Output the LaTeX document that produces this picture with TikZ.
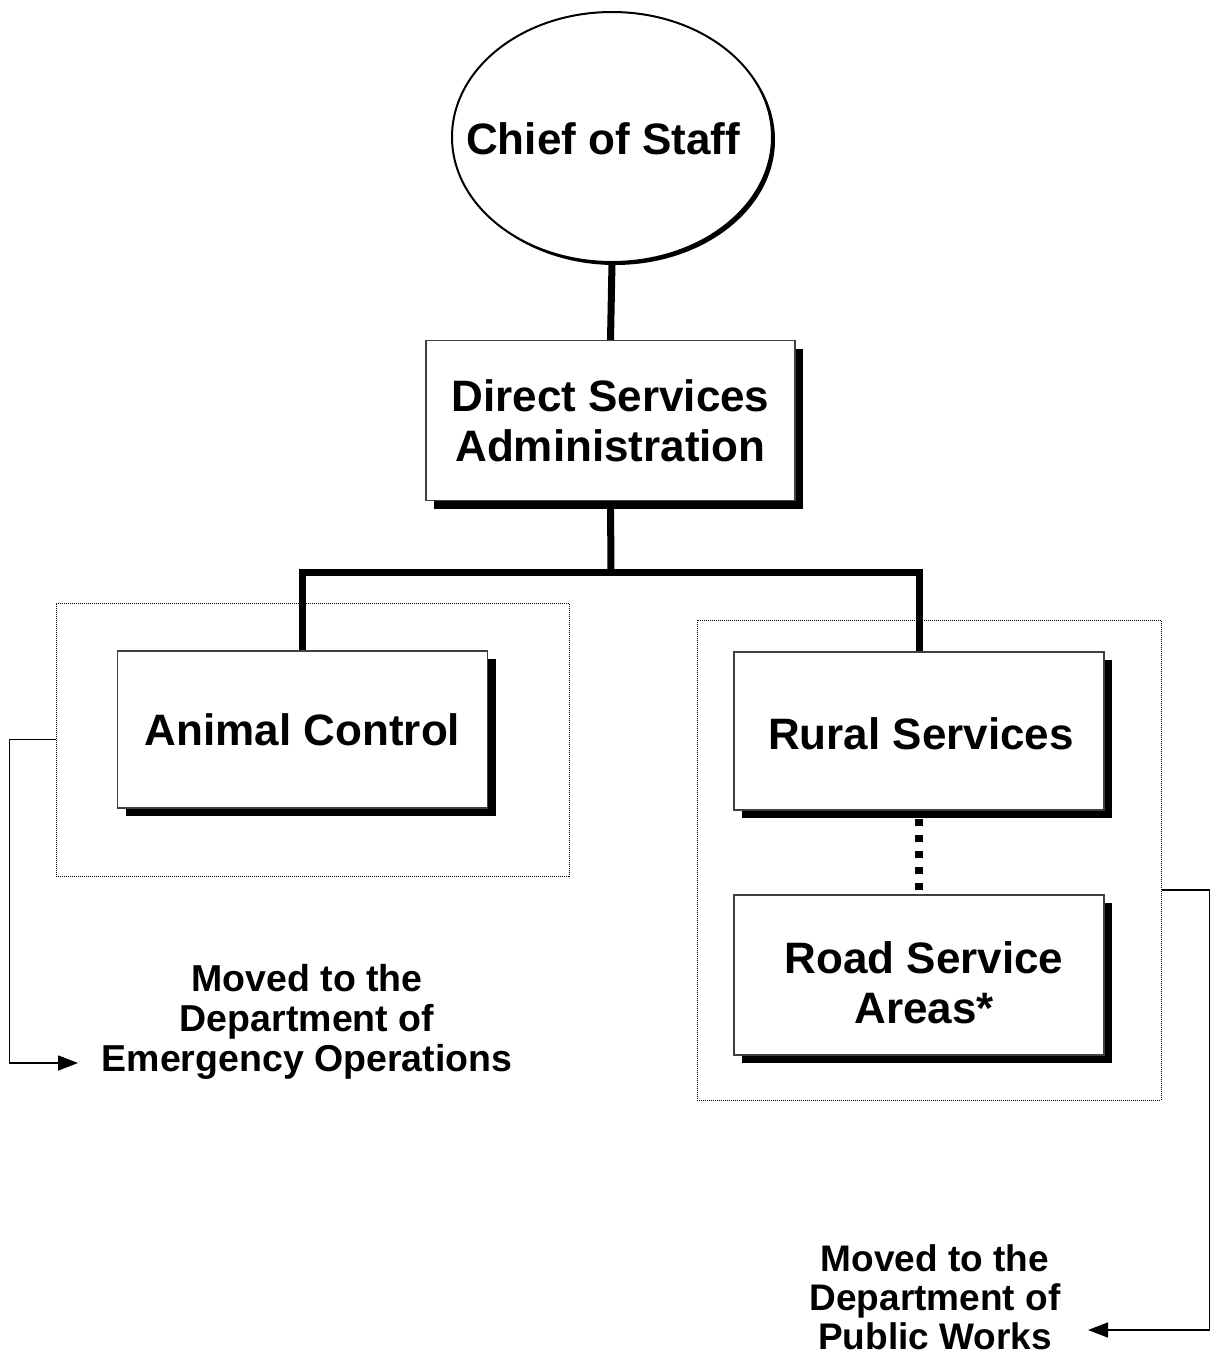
\documentclass[tikz,border=0pt]{standalone}
\usepackage{fontspec}
\setmainfont{Liberation Sans}
\usetikzlibrary{shapes.geometric,shadows,arrows.meta}
\begin{document}
\begin{tikzpicture}[x=1pt,y=-1pt,
  orgbox/.style={draw=black!75,line width=1.2pt,fill=white,rectangle,inner sep=0pt,
    align=center,font=\fontsize{44}{50}\selectfont\bfseries,
    drop shadow={shadow xshift=8pt,shadow yshift=-8pt,fill=black,opacity=1}},
  boxtext/.style={align=center,font=\fontsize{44}{50}\selectfont\bfseries,inner sep=0pt},
  link/.style={line width=7pt,black},
  dotlink/.style={line width=7.5pt,black,dash pattern=on 7pt off 9pt},
  frame/.style={draw,densely dotted,line width=1pt,rectangle,inner sep=0pt},
  movearrow/.style={line width=1.5pt,-{Triangle[length=20pt,width=15pt]}},
  movelabel/.style={align=center,font=\fontsize{37.5}{40}\selectfont\bfseries,inner sep=0pt},
  movelabelR/.style={align=center,font=\fontsize{37}{39}\selectfont\bfseries,inner sep=0pt}
]
\useasboundingbox[fill=white] (0,0) rectangle (1214,1358);

% dotted frames
\node[frame,minimum width=513pt,minimum height=273pt] (frameL) at (312.5,739.5) {};
\node[frame,minimum width=464pt,minimum height=480pt] (frameR) at (929,860) {};

% chief of staff
\node[ellipse,draw,line width=2pt,fill=white,minimum width=320pt,minimum height=250pt,inner sep=0pt,
  drop shadow={shadow xshift=3pt,shadow yshift=-3pt,fill=black,opacity=1}] (chief) at (612,137) {};
\node[boxtext] (chieftext) at (603,139) {Chief of Staff};

% boxes
\node[orgbox,minimum width=369pt,minimum height=160pt] (dsa) at (610.5,420.5) {Direct Services\\Administration};
\node[orgbox,minimum width=370pt,minimum height=157pt] (animal) at (302.5,729.5) {Animal Control};
\node[orgbox,minimum width=370pt,minimum height=158pt] (rural) at (919,731) {};
\node[boxtext] (ruraltext) at (921,734) {Rural Services};
\node[orgbox,minimum width=370pt,minimum height=160pt] (road) at (919,975) {};
\node[boxtext] (roadtext) at (924,983) {Road Service\\Areas*};

% connectors
\coordinate (bar) at (611,572);
\draw[link] (chief.south) -- (dsa.north);
\draw[link] (dsa.south) -- (bar);
\draw[link] (animal.north) |- (bar) -| (rural.north);
\draw[dotlink] ([yshift=-8pt]rural.south) -- (road.north);

% moved labels
\node[movelabel] (movedL) at (307,1022) {Moved to the\\Department of\\Emergency Operations};
\node[movelabelR] (movedR) at (935,1297) {Moved to the\\Department of\\Public Works};
\coordinate (tipL) at (78,1063);
\coordinate (tipR) at (1088,1330);
\draw[movearrow] (frameL.west) -- ++(-46,0) |- (tipL);
\draw[movearrow] ([yshift=-30pt]frameR.east) -- ++(48,0) |- (tipR);
\end{tikzpicture}
\end{document}
